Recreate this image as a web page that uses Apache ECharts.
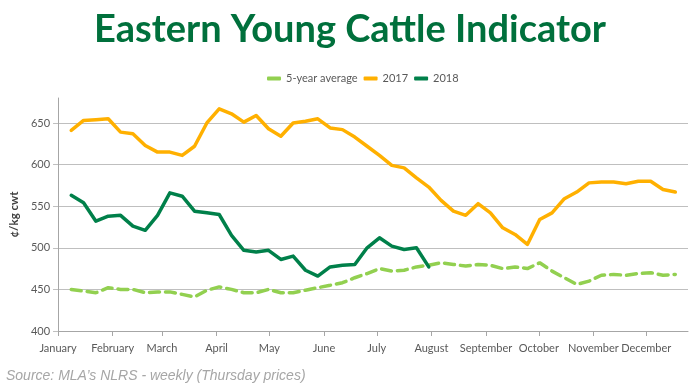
<!DOCTYPE html>
<html><head><meta charset="utf-8">
<script src="https://cdn.jsdelivr.net/npm/echarts@6/dist/echarts.min.js"></script>
<style>html,body{margin:0;padding:0;background:#fff}#c{width:700px;height:388px}</style>
</head><body><div id="c"></div>
<script>
const monthNames = ['January','February','March','April','May','June','July','August','September','October','November','December'];
const monthStarts = ['01-01','02-01','03-01','04-01','05-01','06-01','07-01','08-01','09-01','10-01','11-01','12-01'];
const weekDates = ['01-08','01-15','01-22','01-29','02-05','02-12','02-19','02-26','03-05','03-12','03-19','03-26',
  '04-02','04-09','04-16','04-23','04-30','05-07','05-14','05-21','05-28','06-04','06-11','06-18','06-25',
  '07-02','07-09','07-16','07-23','07-30','08-06','08-13','08-20','08-27','09-03','09-10','09-17','09-24',
  '10-01','10-08','10-15','10-22','10-29','11-05','11-12','11-19','11-26','12-03','12-10','12-17'];
const avg5 = [450,448,446,452,450,450,446,447,447,444,441,449,453,450,446,446,450,446,446,449,452,455,458,464,469,
  475,472,473,477,479,482,480,478,480,479,475,477,475,482,472,464,456,460,467,468,467,469,470,467,468];
const y2017 = [641,653,654,655,639,637,623,615,615,611,622,650,667,661,651,659,643,634,650,652,655,644,642,633,622,
  611,599,596,584,573,557,544,539,553,542,524,516,504,534,542,559,567,578,579,579,577,580,580,570,567];
const y2018 = [563,554,532,538,539,526,521,539,566,562,544,542,540,515,497,495,497,486,490,473,466,477,479,480,500,
  512,502,498,500,477];
const yMin = 400, yMax = 680, yStep = 50;

function dayOfYear(md) {
  const p = md.split('-').map(Number);
  return Math.round((Date.UTC(2018, p[0] - 1, p[1]) - Date.UTC(2018, 0, 1)) / 864e5) + 1;
}
const monthDays = monthStarts.map(dayOfYear);
const xs = weekDates.map(dayOfYear);
const pair = arr => arr.map((v, i) => [xs[i] + 0.5, v]);

const chart = echarts.init(document.getElementById('c'), null, {renderer: 'canvas'});
const gridColor = '#BFBFBF';
const font = 'Lato, "Open Sans", sans-serif';
chart.setOption({
  animation: false,
  backgroundColor: '#fff',
  title: {
    text: 'Eastern Young Cattle Indicator',
    left: 'center', top: 6,
    textStyle: {color: '#00703C', fontSize: 38, fontWeight: 'bold', fontFamily: font}
  },
  legend: {
    top: 68, left: 262, itemGap: 6, itemWidth: 14, itemHeight: 4,
    textStyle: {color: '#595959', fontSize: 11, fontFamily: font},
    data: [
      {name: '5-year average', icon: 'roundRect'},
      {name: '2017', icon: 'roundRect'},
      {name: '2018', icon: 'roundRect'}
    ]
  },
  grid: {left: 53, right: 12, top: 98, bottom: 57, containLabel: false},
  xAxis: {
    type: 'value', min: 1, max: 358.7,
    axisLine: {show: true, lineStyle: {color: '#A6A6A6'}},
    axisTick: {show: true, length: 5, customValues: monthDays, lineStyle: {color: '#A6A6A6'}},
    splitLine: {show: false},
    axisLabel: {
      customValues: monthDays, color: '#595959', fontSize: 11, fontFamily: font, margin: 12,
      formatter: v => monthNames[monthDays.indexOf(v)] || ''
    }
  },
  yAxis: {
    type: 'value', min: yMin, max: yMax, interval: yStep,
    name: '¢/kg cwt', nameLocation: 'middle', nameGap: 34, nameRotate: 90,
    nameTextStyle: {color: '#404040', fontSize: 11.5, fontWeight: 'bold', fontFamily: font},
    axisLine: {show: true, lineStyle: {color: '#A6A6A6'}},
    axisTick: {show: true, length: 5, lineStyle: {color: gridColor}},
    splitLine: {show: true, showMinLine: false, showMaxLine: false, lineStyle: {color: gridColor, width: 1}},
    axisLabel: {
      color: '#595959', fontSize: 11, fontFamily: font, margin: 8, showMaxLabel: false,
      formatter: v => (v % yStep === 0 ? String(v) : '')
    }
  },
  series: [
    {
      name: '5-year average', type: 'line', data: pair(avg5), showSymbol: false, symbol: 'none',
      itemStyle: {color: '#92D050'},
      lineStyle: {color: '#92D050', width: 3.5, type: [10, 6], cap: 'round'}, z: 2
    },
    {
      name: '2017', type: 'line', data: pair(y2017), showSymbol: false, symbol: 'none',
      itemStyle: {color: '#FFB000'},
      lineStyle: {color: '#FFB000', width: 3.5, cap: 'round', join: 'round'}, z: 3
    },
    {
      name: '2018', type: 'line', data: pair(y2018), showSymbol: false, symbol: 'none',
      itemStyle: {color: '#00804A'},
      lineStyle: {color: '#00804A', width: 3.5, cap: 'round', join: 'round'}, z: 4
    }
  ],
  graphic: [{
    type: 'text', left: 6, top: 369,
    style: {text: 'Source: MLA\u2019s NLRS - weekly (Thursday prices)', fill: '#A6A6A6',
      font: 'italic 14px "Liberation Sans", Arial, sans-serif'}
  }]
});
</script></body></html>
